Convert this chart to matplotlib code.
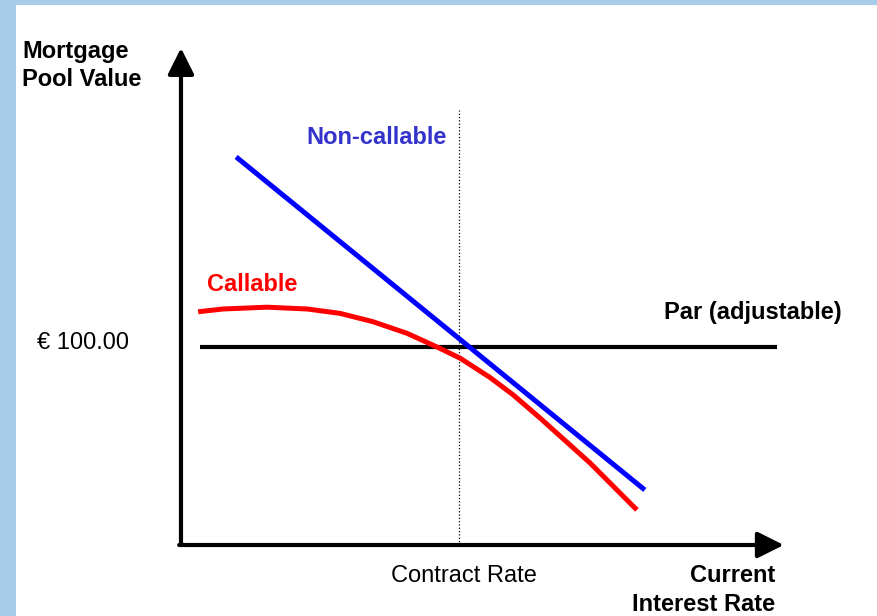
import numpy as np
import matplotlib
matplotlib.use("Agg")
import matplotlib.pyplot as plt
from matplotlib.patches import Rectangle

plt.rcParams['font.family'] = ['Liberation Sans', 'DejaVu Sans']

# data (interest rate in %, pool value)
contract_rate = 6.0
par_value = 100.0
par_x = [0.41, 12.86]

noncall_x = [1.19, 10.01]
noncall_y = [196.0, 27.8]

call_x = [0.37, 0.91, 1.86, 2.72, 3.43, 4.14, 4.88, 5.59, 6.02, 6.67, 7.17, 7.75, 8.83, 9.84]
call_y = [117.8, 119.2, 120.1, 119.2, 117.0, 112.8, 106.9, 99.3, 94.4, 84.6, 75.8, 64.1, 41.4, 17.7]

x_axis_end = 13.01
y_axis_end = 251.0

fig = plt.figure(figsize=(8.78, 6.16), dpi=100, facecolor='#A9CCEB')
fig.patches.append(Rectangle((16 / 878, 0), 1, 611 / 616, transform=fig.transFigure,
                             facecolor='white', edgecolor='none', zorder=-10))
ax = fig.add_axes([0, 0, 1, 1])
ax.set_facecolor('none')
ax.set_xlim(-3.906, 15.043)
ax.set_ylim(-35.86, 275.25)
ax.axis('off')

# axes with arrows
arrow = dict(arrowstyle='-|>,head_length=0.8,head_width=0.4', mutation_scale=20,
             lw=3, color='black', shrinkA=0, shrinkB=0)
ax.annotate('', xy=(0, y_axis_end), xytext=(0, 0), arrowprops=arrow)
ax.annotate('', xy=(x_axis_end, 0), xytext=(-0.04, 0), arrowprops=arrow)

# contract rate marker
ax.plot([contract_rate, contract_rate], [0, 219.7], color='black', lw=0.9, ls=':')

ax.plot(par_x, [par_value, par_value], color='black', lw=3, solid_capstyle='butt')
ax.plot(call_x, call_y, color='#FF0000', lw=3.6, solid_capstyle='butt',
        solid_joinstyle='round')
ax.plot(noncall_x, noncall_y, color='#0000FF', lw=3.6, solid_capstyle='butt')

fs = 17
ax.text(-3.43, 255, 'Mortgage\nPool Value', fontsize=fs, fontweight='bold',
        ha='left', va='top', linespacing=1.3)
ax.text(4.23, 205.6, 'Non-callable', fontsize=fs, fontweight='bold', color='#3333CC',
        ha='center', va='center')
ax.text(1.53, 131.8, 'Callable', fontsize=fs, fontweight='bold', color='#FF0000',
        ha='center', va='center')
ax.text(12.35, 117.2, 'Par (adjustable)', fontsize=fs, fontweight='bold',
        ha='center', va='center')
ax.text(-2.115, 102, '€ 100.00', fontsize=fs, ha='center', va='center')
ax.text(6.11, -15.7, 'Contract Rate', fontsize=fs, ha='center', va='center')
ax.text(12.82, -22.7, 'Current\nInterest Rate', fontsize=fs, fontweight='bold',
        ha='right', va='center', multialignment='right', linespacing=1.3)

fig.savefig('out.png', dpi=100, facecolor=fig.get_facecolor())
